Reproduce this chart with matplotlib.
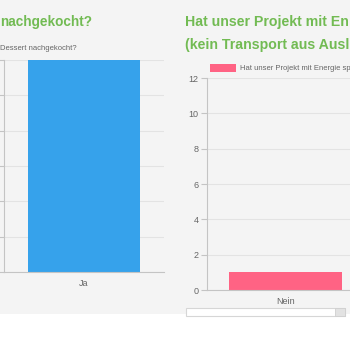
import matplotlib
matplotlib.use("Agg")
import matplotlib.pyplot as plt
from matplotlib.patches import Rectangle

plt.rcParams['font.family'] = ['Liberation Sans', 'DejaVu Sans']

# Data (texts as far as they are visible in the cropped view)
left_title = "nachgekocht?"
left_legend = "Dessert nachgekocht?"
left_categories = ["Ja"]
left_values = [12]

right_title_lines = ["Hat unser Projekt mit En", "(kein Transport aus Ausl"]
right_legend = "Hat unser Projekt mit Energie sp"
right_categories = ["Nein"]
right_values = [1]
y_ticks = [0, 2, 4, 6, 8, 10, 12]

BG = "#f4f4f4"
GREEN = "#72bb53"
BLUE = "#36a2eb"
PINK = "#ff6384"
GRID = "#e3e3e3"
AXIS = "#c4c4c4"
TXT = "#666666"

W = H = 350
fig = plt.figure(figsize=(3.5, 3.5), dpi=100)
fig.patch.set_facecolor("white")

def fx(px): return px / W
def fy(py): return 1 - py / H

# gray page background
fig.patches.append(Rectangle((0, fy(314)), 1, 314 / H, transform=fig.transFigure,
                             facecolor=BG, edgecolor="none", zorder=-10))
# white input box bottom right
fig.patches.append(Rectangle((fx(186), fy(316)), fx(159), 8 / H, transform=fig.transFigure,
                             facecolor="white", edgecolor="#d6d6d6", lw=0.8, zorder=-5))
fig.patches.append(Rectangle((fx(335), fy(316)), fx(10), 8 / H, transform=fig.transFigure,
                             facecolor="#e2e2e2", edgecolor="#cfcfcf", lw=0.6, zorder=-4))

def style(ax, ymax, ticks):
    ax.set_facecolor(BG)
    ax.set_xlim(-0.5, 0.5)
    ax.set_ylim(0, ymax)
    ax.set_yticks(ticks)
    ax.grid(axis="y", color=GRID, lw=0.8)
    ax.set_axisbelow(True)
    for s in ["top", "right"]:
        ax.spines[s].set_visible(False)
    for s in ["left", "bottom"]:
        ax.spines[s].set_color(AXIS)
        ax.spines[s].set_linewidth(0.8)
    ax.tick_params(axis="y", colors=AXIS, labelcolor=TXT, labelsize=6.5, length=4, width=0.8, pad=2)
    ax.tick_params(axis="x", length=0, labelcolor=TXT, labelsize=6.5, pad=5)

# Left chart (its y labels lie outside the visible area)
axl = fig.add_axes([fx(4), fy(272), fx(160), 212 / H])
axl.bar(left_categories, left_values, width=0.706, color=BLUE)
style(axl, max(left_values), y_ticks)
axl.tick_params(axis="y", labelleft=False)
fig.text(fx(0), fy(22), left_title, color=GREEN, fontsize=9.8, fontweight="bold",
         ha="left", va="center")
fig.text(fx(0), fy(48), left_legend, color=TXT, fontsize=5.5, ha="left", va="center")

# Right chart
axr = fig.add_axes([fx(207), fy(290), fx(157), 212 / H])
axr.bar(right_categories, right_values, width=0.72, color=PINK)
style(axr, 12, y_ticks)
fig.text(fx(185), fy(22), right_title_lines[0], color=GREEN, fontsize=10.2,
         fontweight="bold", ha="left", va="center")
fig.text(fx(185), fy(45), right_title_lines[1], color=GREEN, fontsize=10.2,
         fontweight="bold", ha="left", va="center")
fig.patches.append(Rectangle((fx(210), fy(72)), fx(26), 8 / H, transform=fig.transFigure,
                             facecolor=PINK, edgecolor="none"))
fig.text(fx(240), fy(68), right_legend, color=TXT, fontsize=5.5, ha="left", va="center")

fig.savefig("out.png", dpi=100)
